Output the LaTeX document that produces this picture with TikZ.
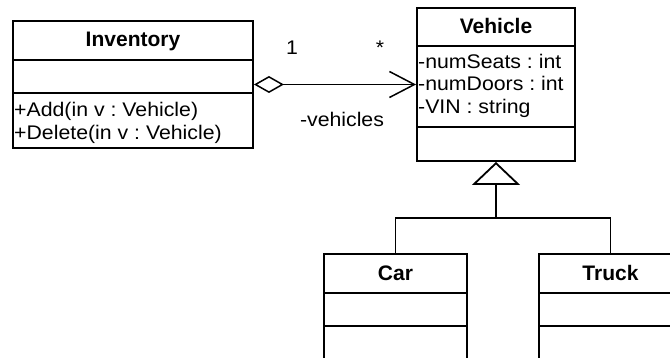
\documentclass[tikz,border=0pt]{standalone}
\usepackage{fontspec}
\setmainfont{Liberation Sans}[FakeStretch=1.08]
\newfontfamily\classnamefont{Liberation Sans}
\usetikzlibrary{arrows.meta}
\frenchspacing

\begin{document}
\begin{tikzpicture}[x=1pt, y=-1pt,
  classbox/.style={draw, line width=1.9pt, inner sep=0pt},
  divider/.style={line width=1.9pt},
  title/.style={anchor=base, inner sep=0pt, font=\classnamefont\fontsize{21}{24}\selectfont\bfseries},
  member/.style={anchor=base west, inner sep=0pt, font=\fontsize{19.7}{23}\selectfont},
  rolelabel/.style={anchor=base, inner sep=0pt, font=\fontsize{19.7}{23}\selectfont},
  assoc/.style={line width=1.1pt,
    {Diamond[open, length=30pt, width=17pt, line width=1.5pt]}-{Straight Barb[length=25pt, width=26pt, line width=1.5pt]}},
  genline/.style={line width=1.2pt},
  genarrow/.style={line width=1.6pt, -{Triangle[open, length=23pt, width=48pt, line width=1.8pt]}}]

\useasboundingbox (0,0) rectangle (670,358);
\clip (0,0) rectangle (670,358);
\fill[white] (0,0) rectangle (670,358);

% class boxes
\node[classbox, minimum width=240pt, minimum height=127pt] (inv) at (133,84.5) {};
\node[classbox, minimum width=158pt, minimum height=153pt] (veh) at (496,84.5) {};
\node[classbox, minimum width=143pt, minimum height=160pt] (car) at (395.5,334) {};
\node[classbox, minimum width=143pt, minimum height=160pt] (truck) at (610.5,334) {};

% compartment separators
\draw[divider] (inv.west |- 0,60) -- (inv.east |- 0,60);
\draw[divider] (inv.west |- 0,93) -- (inv.east |- 0,93);
\draw[divider] (veh.west |- 0,46) -- (veh.east |- 0,46);
\draw[divider] (veh.west |- 0,127) -- (veh.east |- 0,127);
\draw[divider] (car.west |- 0,293) -- (car.east |- 0,293);
\draw[divider] (car.west |- 0,326) -- (car.east |- 0,326);
\draw[divider] (truck.west |- 0,293) -- (truck.east |- 0,293);
\draw[divider] (truck.west |- 0,326) -- (truck.east |- 0,326);

% class names
\node[title] (invname) at (133,47) {Inventory};
\node[title] (vehname) at (496,33.5) {Vehicle};
\node[title] (carname) at (395.5,280.5) {Car};
\node[title] (truckname) at (610.5,280.5) {Truck};

% attributes and operations
\node[member] (addop) at (14,116.5) {+Add(in v : Vehicle)};
\node[member] (delop) at (14,140) {+Delete(in v : Vehicle)};
\node[member] (seats) at (418,68.3) {-numSeats : int};
\node[member] (doors) at (418,90.7) {-numDoors : int};
\node[member] (vin) at (418,113.3) {-VIN : string};

% aggregation
\draw[assoc] (inv.east) -- (veh.west);
\node[rolelabel] (multone) at (292,55) {1};
\node[rolelabel] (multmany) at (380,55) {*};
\node[rolelabel] (role) at (342,126.5) {-vehicles};

% generalization
\coordinate (junction) at (veh.south |- 0,218);
\draw[genline] (car.north) |- (junction) -| (truck.north);
\draw[genarrow] (junction) -- (veh.south);
\end{tikzpicture}
\end{document}
